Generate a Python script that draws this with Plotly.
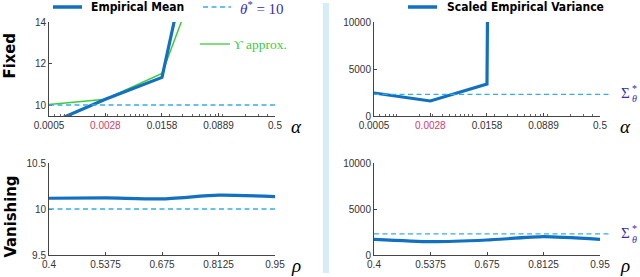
import numpy as np
import plotly.graph_objects as go

W, H = 640, 277

# ---------------- data ----------------
alpha = [0.0005, 0.0028, 0.0158, 0.0889, 0.5]
alpha_ticktext = ["0.0005", "0.0028", "0.0158", "0.0889", "0.5"]
rho = [0.4, 0.5375, 0.675, 0.8125, 0.95]
rho_ticktext = ["0.4", "0.5375", "0.675", "0.8125", "0.95"]
var_ticks = [0, 5000, 10000]
var_ticktext = ["0", "5000", "10000"]

fixed_mean = [9.1, 10.28, 11.33, 23.8, 60.0]
fixed_upsilon = [10.03, 10.28, 11.52, 18.8, 40.0]
fixed_var = [2450, 1600, 3400, 800000, 2000000]

vanish_mean = [10.117, 10.12, 10.11, 10.15, 10.135]
vanish_var = [1700, 1450, 1630, 1990, 1690]

theta_star = 10
sigma_star = 2300

# ---------------- style ----------------
BLUE = "#1170c0"
LBLUE = "#33aee6"
GREEN = "#3ccc3c"
VIOLET = "#3a2db2"
CRIMSON = "#d63a6a"
TICKFONT = dict(family="Liberation Sans, Arial, sans-serif", size=10, color="#333333")
NARROW = "DejaVu Sans Condensed, Liberation Sans Narrow, sans-serif"
SERIF = "Liberation Serif, DejaVu Serif, serif"


def px(x):
    return x / W


def py(y):
    return 1 - y / H


fig = go.Figure()

fig.add_trace(go.Scatter(x=alpha, y=fixed_upsilon, mode="lines",
                         line=dict(color=GREEN, width=1.5), xaxis="x", yaxis="y"))
fig.add_trace(go.Scatter(x=alpha, y=fixed_mean, mode="lines",
                         line=dict(color=BLUE, width=3.2), xaxis="x", yaxis="y"))
fig.add_trace(go.Scatter(x=alpha, y=fixed_var, mode="lines",
                         line=dict(color=BLUE, width=3.2), xaxis="x2", yaxis="y2"))
fig.add_trace(go.Scatter(x=rho, y=vanish_mean, mode="lines",
                         line=dict(color=BLUE, width=3.2, shape="spline", smoothing=0.6),
                         xaxis="x3", yaxis="y3"))
fig.add_trace(go.Scatter(x=rho, y=vanish_var, mode="lines",
                         line=dict(color=BLUE, width=3.2, shape="spline", smoothing=0.6),
                         xaxis="x4", yaxis="y4"))

minor_log = [k * 10.0 ** n for n in range(-4, 0) for k in range(1, 10)
             if 0.0005 <= k * 10.0 ** n <= 0.5]

alpha_ticks_colored = [
    f'<span style="color:{CRIMSON}">{t}</span>' if t == "0.0028" else t
    for t in alpha_ticktext
]

axcommon = dict(showgrid=False, zeroline=False, showline=True, linecolor="#444444",
                linewidth=1, ticks="inside", ticklen=3, tickcolor="#444444",
                tickfont=TICKFONT, fixedrange=True, automargin=False)

top_dom = [py(116), py(22)]
bot_dom = [py(255), py(163)]
left_dom = [px(49), px(275)]
right_dom = [px(374), px(600)]

fig.update_layout(
    template="none",
    width=W, height=H, margin=dict(l=0, r=0, t=0, b=0, autoexpand=False),
    paper_bgcolor="white", plot_bgcolor="white", showlegend=False,
    xaxis=dict(domain=left_dom, anchor="y", type="log",
               range=[np.log10(0.0005), np.log10(0.5)],
               tickvals=alpha, ticktext=alpha_ticks_colored,
               minor=dict(tickvals=minor_log, ticks="inside", ticklen=2, tickcolor="#666666"),
               **axcommon),
    yaxis=dict(domain=top_dom, anchor="x", range=[9.47, 14], tickvals=[10, 12, 14],
               ticktext=["10", "12", "14"], **axcommon),
    xaxis2=dict(domain=right_dom, anchor="y2", type="log",
                range=[np.log10(0.0005), np.log10(0.5)],
                tickvals=alpha, ticktext=alpha_ticks_colored,
                minor=dict(tickvals=minor_log, ticks="inside", ticklen=2, tickcolor="#666666"),
                **axcommon),
    yaxis2=dict(domain=top_dom, anchor="x2", range=[0, 10000], tickvals=var_ticks,
                ticktext=var_ticktext, **axcommon),
    xaxis3=dict(domain=left_dom, anchor="y3", range=[0.4, 0.95],
                tickvals=rho, ticktext=rho_ticktext, **axcommon),
    yaxis3=dict(domain=bot_dom, anchor="x3", range=[9.5, 10.5], tickvals=[9.5, 10, 10.5],
                ticktext=["9.5", "10", "10.5"], **axcommon),
    xaxis4=dict(domain=right_dom, anchor="y4", range=[0.4, 0.95],
                tickvals=rho, ticktext=rho_ticktext, **axcommon),
    yaxis4=dict(domain=bot_dom, anchor="x4", range=[0, 10000], tickvals=var_ticks,
                ticktext=var_ticktext, **axcommon),
)

shapes = []
dash = "5px,3.5px"
# reference dashed lines
shapes.append(dict(type="line", xref="x domain", yref="y", x0=0, x1=1,
                   y0=theta_star, y1=theta_star, line=dict(color=LBLUE, width=1.3, dash=dash)))
shapes.append(dict(type="line", xref="x3 domain", yref="y3", x0=0, x1=1,
                   y0=theta_star, y1=theta_star, line=dict(color=LBLUE, width=1.3, dash=dash)))
ext = (612 - 374) / (600 - 374)
shapes.append(dict(type="line", xref="x2 domain", yref="y2", x0=0, x1=ext,
                   y0=sigma_star, y1=sigma_star, line=dict(color=LBLUE, width=1.3, dash=dash)))
shapes.append(dict(type="line", xref="x4 domain", yref="y4", x0=0, x1=ext,
                   y0=sigma_star, y1=sigma_star, line=dict(color=LBLUE, width=1.3, dash=dash)))
# separator bar
shapes.append(dict(type="rect", xref="paper", yref="paper", x0=px(323), x1=px(329),
                   y0=py(273), y1=py(3), fillcolor="#d6ecf9", line=dict(width=0), layer="below"))
# legend samples
shapes.append(dict(type="line", xref="paper", yref="paper", x0=px(53), x1=px(82),
                   y0=py(7), y1=py(7), line=dict(color=BLUE, width=3.5)))
shapes.append(dict(type="line", xref="paper", yref="paper", x0=px(203), x1=px(231),
                   y0=py(7), y1=py(7), line=dict(color=LBLUE, width=1.3, dash=dash)))
shapes.append(dict(type="line", xref="paper", yref="paper", x0=px(200), x1=px(230),
                   y0=py(44), y1=py(44), line=dict(color=GREEN, width=1.3)))
shapes.append(dict(type="line", xref="paper", yref="paper", x0=px(408), x1=px(437),
                   y0=py(7), y1=py(7), line=dict(color=BLUE, width=3.5)))
fig.update_layout(shapes=shapes)

ann = []


def A(text, x, y, size, color="#000000", family=NARROW, xa="left", ya="middle", angle=0):
    ann.append(dict(text=text, x=px(x), y=py(y), xref="paper", yref="paper",
                    showarrow=False, xanchor=xa, yanchor=ya, textangle=angle,
                    font=dict(size=size, color=color, family=family)))


A("<b>Empirical Mean</b>", 89, 7, 12)
A("<b>Scaled Empirical Variance</b>", 445, 7, 12)
A("<i>θ</i><sup>*</sup> = 10", 238, 8, 15, VIOLET, SERIF)
A("ϒ approx.", 231, 44, 13.5, GREEN, SERIF)
A("<b>Fixed</b>", 9.5, 56, 16.5, angle=-90, xa="center", ya="middle")
A("<b>Vanishing</b>", 9.5, 217, 16.5, angle=-90, xa="center", ya="middle")
A("<i>α</i>", 296, 126, 19, "#000000", SERIF, xa="center")
A("<i>α</i>", 625, 126, 19, "#000000", SERIF, xa="center")
A("<i>ρ</i>", 296, 265, 19, "#000000", SERIF, xa="center")
A("<i>ρ</i>", 625, 265, 19, "#000000", SERIF, xa="center")
for yc in (93, 233):
    A("Σ", 625, yc, 15, VIOLET, SERIF, xa="center")
    A("*", 634, yc - 5, 10, VIOLET, SERIF, xa="center")
    A("<i>θ</i>", 634, yc + 6, 10, VIOLET, SERIF, xa="center")
fig.update_layout(annotations=ann)

fig.write_html("out.html", config={"displayModeBar": False},
               post_script="document.body.style.margin='0';")
